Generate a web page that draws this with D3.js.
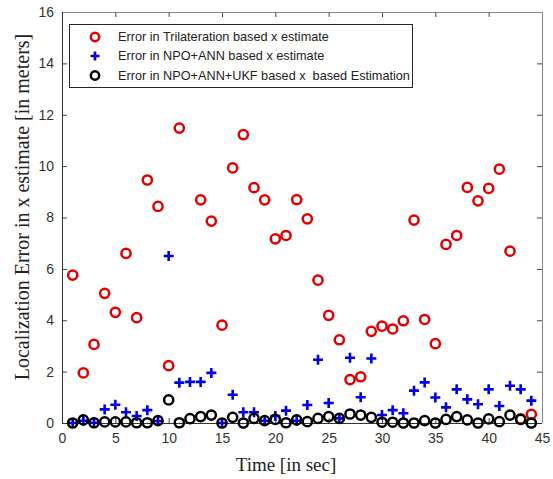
<!DOCTYPE html>
<html><head><meta charset="utf-8">
<script src="https://cdn.jsdelivr.net/npm/d3@7"></script>
<style>body{margin:0;background:#fff}</style>
</head><body><svg id="c" width="553" height="479"></svg>
<script>
const timeSec = [1,2,3,4,5,6,7,8,9,10,11,12,13,14,15,16,17,18,19,20,21,22,23,24,25,26,27,28,29,30,31,32,33,34,35,36,37,38,39,40,41,42,43,44];
const trilatErr = [5.76,1.95,3.06,5.05,4.31,6.6,4.1,9.46,8.43,2.23,11.48,null,8.69,7.86,3.81,9.93,11.23,9.16,8.69,7.17,7.3,8.7,7.95,5.56,4.19,3.24,1.69,1.8,3.57,3.77,3.66,3.98,7.9,4.03,3.09,6.95,7.3,9.17,8.65,9.13,9.88,6.69,0.16,0.34];
const annErr = [0,0.09,0.01,0.53,0.71,0.42,0.27,0.5,0.08,6.5,1.57,1.6,1.6,1.95,0,1.1,0.42,0.42,0.09,0.27,0.48,0.09,0.7,2.46,0.78,0.18,2.54,1.0,2.51,0.31,0.5,0.38,1.26,1.58,0.99,0.61,1.31,0.92,0.73,1.31,0.66,1.45,1.31,0.87];
const ukfErr = [0,0.12,0.01,0.04,0.04,0.04,0.01,0.01,0.09,0.9,0.01,0.17,0.25,0.31,0,0.22,0,0.18,0.09,0.14,0.01,0.12,0.05,0.18,0.25,0.18,0.35,0.31,0.22,0.03,0.03,0,0,0.09,0,0.14,0.25,0.12,0,0.16,0.05,0.31,0.14,0];
const xTicks = [0,5,10,15,20,25,30,35,40,45];
const yTicks = [0,2,4,6,8,10,12,14,16];
const legendLabels = ["Error in Trilateration based x estimate","Error in NPO+ANN based x estimate","Error in NPO+ANN+UKF based x  based Estimation"];
const xTitle = "Time [in sec]";
const yTitle = "Localization Error in x estimate [in meters]";

const svg = d3.select("#c");
const L = 62, R = 542, T = 12, B = 423;
const x = d3.scaleLinear().domain([0,45]).range([L,R]);
const y = d3.scaleLinear().domain([0,16]).range([B,T]);
const RED = "#e00000", BLUE = "#0000e6", BLACK = "#000";

// axes (ticks inward)
const tickStyle = g => { g.selectAll("text").attr("fill","#333").style("font-family","Liberation Sans, Arial, sans-serif").style("font-size","14px"); g.select(".domain").remove(); g.selectAll(".tick line").attr("stroke","#444"); };
svg.append("g").attr("transform",`translate(0,${B})`)
  .call(d3.axisBottom(x).tickValues(xTicks).tickSize(-5).tickPadding(10).tickFormat(d3.format("d"))).call(tickStyle);
svg.append("g").attr("transform",`translate(${L},0)`)
  .call(d3.axisLeft(y).tickValues(yTicks).tickSize(-5).tickPadding(8).tickFormat(d3.format("d"))).call(tickStyle);
svg.append("g").attr("transform",`translate(0,${T})`)
  .call(d3.axisTop(x).tickValues(xTicks).tickSize(-5).tickFormat("")).call(tickStyle);
svg.append("g").attr("transform",`translate(${R},0)`)
  .call(d3.axisRight(y).tickValues(yTicks).tickSize(-5).tickFormat("")).call(tickStyle);
svg.append("line").attr("x1",L).attr("x2",R).attr("y1",T+0.5).attr("y2",T+0.5).attr("stroke","#888");
svg.append("line").attr("x1",R+0.5).attr("x2",R+0.5).attr("y1",T).attr("y2",B).attr("stroke","#888");
svg.append("line").attr("x1",L+0.5).attr("x2",L+0.5).attr("y1",T).attr("y2",B).attr("stroke","#333");
svg.append("line").attr("x1",L).attr("x2",R).attr("y1",B+0.5).attr("y2",B+0.5).attr("stroke","#333");

// series
const pts = arr => timeSec.map((t,i)=>({t, v:arr[i]})).filter(d=>d.v!=null);
svg.append("g").selectAll("circle").data(pts(trilatErr)).join("circle")
  .attr("cx",d=>x(d.t)).attr("cy",d=>y(d.v)).attr("r",4.6)
  .attr("fill","none").attr("stroke",RED).attr("stroke-width",2.5);
svg.append("g").selectAll("path").data(pts(annErr)).join("path")
  .attr("transform",d=>`translate(${x(d.t)},${y(d.v)})`)
  .attr("d","M-5,0H5M0,-5V5").attr("stroke",BLUE).attr("stroke-width",2.6).attr("fill","none");
svg.append("g").selectAll("circle").data(pts(ukfErr)).join("circle")
  .attr("cx",d=>x(d.t)).attr("cy",d=>y(d.v)).attr("r",4.6)
  .attr("fill","none").attr("stroke",BLACK).attr("stroke-width",2.5);

// legend
const lg = svg.append("g");
lg.append("rect").attr("x",69.5).attr("y",24.5).attr("width",343).attr("height",63)
  .attr("fill","#fff").attr("stroke","#262626").attr("stroke-width",1);
const rowsY = [37,56,75.5];
const kinds = ["c-red","plus","c-black"];
legendLabels.forEach((lab,i)=>{
  const cy = rowsY[i];
  if(kinds[i]==="plus"){
    lg.append("path").attr("transform",`translate(95,${cy})`).attr("d","M-4.5,0H4.5M0,-4.5V4.5").attr("stroke",BLUE).attr("stroke-width",2.6);
  } else {
    lg.append("circle").attr("cx",95).attr("cy",cy).attr("r",4.2).attr("fill","none")
      .attr("stroke",kinds[i]==="c-red"?RED:BLACK).attr("stroke-width",2.5);
  }
  lg.append("text").attr("x",118).attr("y",cy).attr("dy","0.35em").text(lab)
    .style("white-space","pre")
    .attr("fill","#222").style("font-family","Liberation Sans, Arial, sans-serif").style("font-size","12.7px");
});

// titles
svg.append("text").attr("x",286).attr("y",471).attr("text-anchor","middle").text(xTitle)
  .style("font-family","Liberation Serif, Times New Roman, serif").style("font-size","19px").attr("fill","#222");
svg.append("text").attr("transform","translate(29,207) rotate(-90)").attr("text-anchor","middle").text(yTitle)
  .style("font-family","Liberation Serif, Times New Roman, serif").style("font-size","20px").attr("fill","#222");
</script></body></html>
